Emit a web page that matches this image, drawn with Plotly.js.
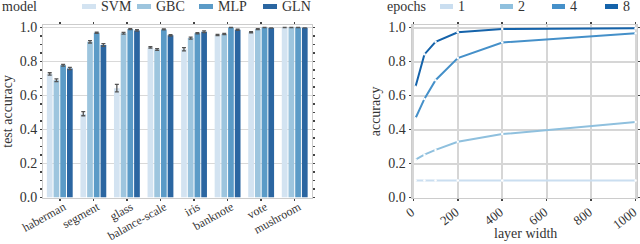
<!DOCTYPE html>
<html>
<head>
<meta charset="utf-8">
<script src="https://cdn.plot.ly/plotly-3.0.1.min.js"></script>
<style>html,body{margin:0;padding:0;background:#fff;}#chart{width:640px;height:244px;}</style>
</head>
<body>
<div id="chart"></div>
<script>
// ---- data: left chart (test accuracy per dataset & model) ----
const datasets = ["haberman", "segment", "glass", "balance-scale", "iris", "banknote", "vote", "mushroom"];
const models = ["SVM", "GBC", "MLP", "GLN"];
const svmAcc = [0.727, 0.493, 0.643, 0.883, 0.872, 0.956, 0.972, 1.000];
const gbcAcc = [0.690, 0.916, 0.966, 0.871, 0.938, 0.962, 0.991, 1.000];
const mlpAcc = [0.778, 0.969, 0.991, 0.989, 0.966, 1.000, 1.000, 1.000];
const glnAcc = [0.759, 0.897, 0.983, 0.954, 0.975, 0.987, 0.997, 0.998];
const svmErr = [0.007, 0.012, 0.022, 0.004, 0.010, 0.003, 0.003, 0.000];
const gbcErr = [0.008, 0.007, 0.005, 0.005, 0.006, 0.004, 0.003, 0.000];
const mlpErr = [0.005, 0.004, 0.003, 0.003, 0.004, 0.000, 0.000, 0.000];
const glnErr = [0.007, 0.008, 0.004, 0.004, 0.005, 0.003, 0.000, 0.000];

// ---- data: right chart (accuracy vs layer width per epochs) ----
const layerWidth = [10, 50, 100, 200, 400, 1000];
const epochs = ["1", "2", "4", "8"];
const acc1 = [0.100, 0.100, 0.100, 0.100, 0.100, 0.100];
const acc2 = [0.223, 0.252, 0.280, 0.328, 0.373, 0.444];
const acc4 = [0.466, 0.580, 0.690, 0.820, 0.912, 0.966];
const acc8 = [0.652, 0.842, 0.916, 0.972, 0.991, 0.996];
const widthTicks = [0, 200, 400, 600, 800, 1000];

// ---- styling ----
const barColors = ["#d3e3f1", "#9dc5de", "#5b9bc7", "#2b66a1"];
const lineColors = ["#cadef0", "#8fc0de", "#4590c9", "#1563aa"];
const FONT = "'Liberation Serif', 'Times New Roman', serif";
const W = 640, H = 244;
const px = v => v / W, py = v => (H - v) / H;

const barVals = [svmAcc, gbcAcc, mlpAcc, glnAcc];
const barErrs = [svmErr, gbcErr, mlpErr, glnErr];
const lineVals = [acc1, acc2, acc4, acc8];

const traces = [];
models.forEach((m, i) => {
  traces.push({
    type: "bar", name: m, x: datasets, y: barVals[i],
    marker: {color: barColors[i], line: {width: 0}},
    error_y: {type: "data", array: barErrs[i], visible: true, color: "#555555", thickness: 1.3, width: 2},
    xaxis: "x", yaxis: "y", showlegend: false
  });
});
epochs.forEach((e, i) => {
  traces.push({
    type: "scatter", mode: "lines+markers", name: e, x: layerWidth, y: lineVals[i],
    line: {color: lineColors[i], width: 2},
    marker: {color: "#ffffff", size: 2.5},
    xaxis: "x2", yaxis: "y2", showlegend: false
  });
});

const tickFont = {family: FONT, size: 14, color: "#333333"};
const xTickFont = {family: FONT, size: 13, color: "#333333"};
const catTickFont = {family: FONT, size: 12, color: "#333333"};
const yDom = [py(197.5), py(25.3)];

const shapes = [], annotations = [];
// legend for left chart
annotations.push({text: "model", xref: "paper", yref: "paper", x: px(0), y: py(7), xanchor: "left", yanchor: "middle", showarrow: false, font: tickFont});
const modelSw = [82, 137, 199, 263];
models.forEach((m, i) => {
  shapes.push({type: "rect", xref: "paper", yref: "paper", x0: px(modelSw[i]), x1: px(modelSw[i] + 14), y0: py(4), y1: py(9), fillcolor: barColors[i], line: {width: 0}});
  annotations.push({text: m, xref: "paper", yref: "paper", x: px(modelSw[i] + 17), y: py(7), xanchor: "left", yanchor: "middle", showarrow: false, font: tickFont});
});
// legend for right chart
annotations.push({text: "epochs", xref: "paper", yref: "paper", x: px(385), y: py(7), xanchor: "left", yanchor: "middle", showarrow: false, font: tickFont});
const epochSw = [440, 500, 552, 605];
epochs.forEach((e, i) => {
  shapes.push({type: "rect", xref: "paper", yref: "paper", x0: px(epochSw[i]), x1: px(epochSw[i] + 13), y0: py(4), y1: py(9), fillcolor: lineColors[i], line: {width: 0}});
  annotations.push({text: e, xref: "paper", yref: "paper", x: px(epochSw[i] + 16), y: py(7), xanchor: "left", yanchor: "middle", showarrow: false, font: tickFont});
});
// x title of right chart
annotations.push({text: "layer width", xref: "paper", yref: "paper", x: px(525), y: py(233), xanchor: "center", yanchor: "middle", showarrow: false, font: tickFont});

const commonAxis = {
  showline: true, linecolor: "#cccccc", linewidth: 1, mirror: "allticks",
  ticks: "outside", ticklen: 2, tickwidth: 1.5, tickcolor: "#444444",
  tickfont: tickFont, zeroline: false, ticklabeloverflow: "allow"
};

const layout = {
  width: W, height: H,
  margin: {l: 0, r: 0, t: 0, b: 0},
  paper_bgcolor: "#ffffff", plot_bgcolor: "#ffffff",
  font: {family: FONT, size: 14, color: "#333333"},
  barmode: "group", bargap: 0.2, bargroupgap: 0.15,
  showlegend: false,
  xaxis: Object.assign({}, commonAxis, {
    domain: [px(43), px(311.5)], anchor: "y", type: "category",
    categoryorder: "array", categoryarray: datasets,
    range: [-0.5, 7.5], tickangle: -29, showgrid: false, tickfont: catTickFont,
    ticklabelshift: 4, ticklabelstandoff: -5
  }),
  yaxis: Object.assign({}, commonAxis, {
    domain: yDom, anchor: "x", range: [0, 1.013], dtick: 0.2, tick0: 0, tickformat: ".1f",
    showgrid: true, gridcolor: "#d9d9d9", gridwidth: 1.5,
    minor: {dtick: 0.05, ticks: "outside", ticklen: 2, tickcolor: "#444444", showgrid: false},
    title: {text: "test accuracy", font: tickFont, standoff: 4}
  }),
  xaxis2: Object.assign({}, commonAxis, {
    domain: [px(411.5), px(636.8)], anchor: "y2", range: [-8, 1005],
    tickmode: "array", tickvals: widthTicks, ticktext: widthTicks.map(String),
    tickangle: -38, showgrid: true, gridcolor: "#d6d6d6", gridwidth: 2,
    tickfont: xTickFont, ticklabelshift: -2, ticklabelstandoff: -1
  }),
  yaxis2: Object.assign({}, commonAxis, {
    domain: yDom, anchor: "x2", range: [0, 1.013], dtick: 0.2, tick0: 0, tickformat: ".1f",
    showgrid: true, gridcolor: "#d6d6d6", gridwidth: 2,
    title: {text: "accuracy", font: tickFont, standoff: 4}
  }),
  shapes: shapes,
  annotations: annotations
};

Plotly.newPlot("chart", traces, layout, {displayModeBar: false, staticPlot: true});
</script>
</body>
</html>
